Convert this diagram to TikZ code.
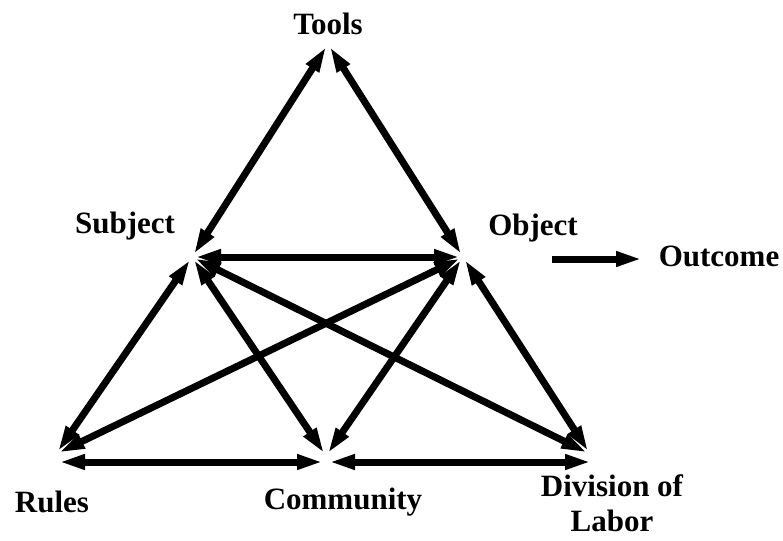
\documentclass[tikz,border=0pt]{standalone}
\usepackage{fontspec}
\setmainfont{Liberation Serif}
\usetikzlibrary{arrows.meta}

\begin{document}
\begin{tikzpicture}[x=1pt, y=-1pt,
    every node/.style={font=\fontsize{31}{35}\selectfont\bfseries, align=center, inner sep=0pt},
    link/.style={line width=7pt, shorten <=3pt, shorten >=3pt,
        {Triangle[length=26pt,width=14pt]}-{Triangle[length=26pt,width=14pt]}},
    outarrow/.style={line width=7pt, -{Triangle[length=26pt,width=14pt]}}
]
    \useasboundingbox (0,0) rectangle (783,540);

    % labels
    \node (tools) at (328,24) {Tools};
    \node (subj) at (125,226) {Subject};
    \node (obj) at (533,228) {Object};
    \node (res) at (719,256) {Outcome};
    \node (rules) at (52,502) {Rules};
    \node (comm) at (343,502) {Community};
    \node[anchor=north] (div) at (612,474) {Division of\\Labor};

    % corners of the triangle
    \coordinate (T) at (328,44);
    \coordinate (S) at (192,257);
    \coordinate (O) at (463,257);
    \coordinate (R) at (56,454);
    \coordinate (C) at (326,456);
    \coordinate (D) at (590,454);
    \coordinate (Rb) at (56,462);
    \coordinate (Cb) at (326,462);
    \coordinate (Db) at (594,462);
    \coordinate (Oout) at (552,259);
    \coordinate (Rout) at (642,259);

    \draw[link] (T) -- (S);
    \draw[link] (T) -- (O);
    \draw[link] (S) -- (O);
    \draw[link] (S) -- (R);
    \draw[link] (S) -- (C);
    \draw[link] (S) -- (D);
    \draw[link] (O) -- (R);
    \draw[link] (O) -- (C);
    \draw[link] (O) -- (D);
    \draw[link] (Rb) -- (Cb);
    \draw[link] (Cb) -- (Db);
    \draw[outarrow] (Oout) -- (Rout);
\end{tikzpicture}
\end{document}
